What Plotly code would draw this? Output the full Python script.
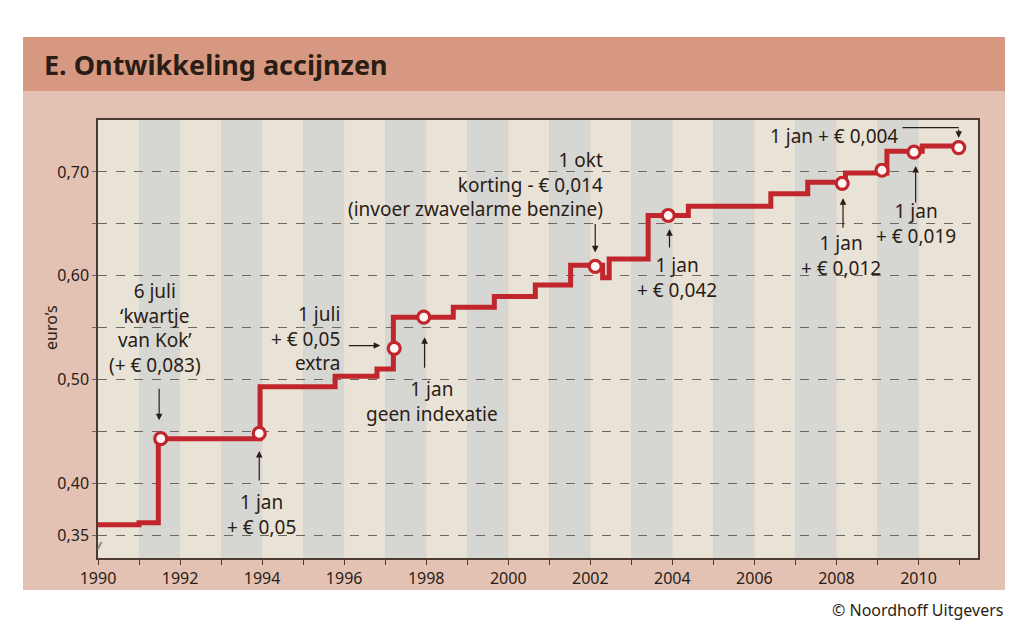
import plotly.graph_objects as go

# ---------------- data ----------------
step_years = [1990.0, 1991.0, 1991.47, 1993.95, 1995.78, 1996.8, 1997.2, 1998.66, 1999.66,
              2000.66, 2001.52, 2002.3, 2002.46, 2003.41, 2004.39, 2006.4, 2007.3,
              2008.22, 2009.23, 2010.09, 2010.98]
step_values = [0.360, 0.362, 0.443, 0.493, 0.503, 0.510, 0.560, 0.5695, 0.580,
               0.591, 0.610, 0.598, 0.616, 0.658, 0.667, 0.679, 0.690,
               0.699, 0.720, 0.725, 0.725]

marker_years = [1991.53, 1993.93, 1997.22, 1997.94, 2002.12, 2003.9, 2008.14, 2009.11, 2009.89, 2010.98]
marker_values = [0.443, 0.448, 0.530, 0.560, 0.609, 0.658, 0.689, 0.7016, 0.719, 0.7234]

x_tick_years = list(range(1990, 2012))
x_tick_labels = [str(y) if y % 2 == 0 else "" for y in x_tick_years]
y_tick_vals = [0.35, 0.40, 0.45, 0.50, 0.55, 0.60, 0.65, 0.70]
y_tick_labels = ["0,35", "0,40", "", "0,50", "", "0,60", "", "0,70"]

# (text, x, y, alignment)
notes = [
    ("6 juli<br>‘kwartje<br>van Kok’<br>(+ € 0,083)", 1991.39, 0.550, "center"),
    ("1 jan<br>+ € 0,05", 1993.98, 0.3695, "center"),
    ("1 juli<br>+ € 0,05<br>extra", 1995.95, 0.5394, "right"),
    ("1 jan<br>geen indexatie", 1998.15, 0.4788, "center"),
    ("1 okt<br>korting - € 0,014<br>(invoer zwavelarme benzine)", 2002.37, 0.6875, "right"),
    ("1 jan<br>+ € 0,042", 2004.12, 0.5986, "center"),
    ("1 jan<br>+ € 0,012", 2008.10, 0.6197, "center"),
    ("1 jan<br>+ € 0,019", 2009.95, 0.6505, "center"),
    ("1 jan + € 0,004", 2007.93, 0.7346, "center"),
]
# (tip x, tip y, ax, ay)
arrows = [
    (1991.49, 0.4606, 0, -33),
    (1993.93, 0.4311, 0, 31),
    (1996.88, 0.5327, -33, 0),
    (1997.96, 0.5407, 0, 32),
    (2002.12, 0.6224, 0, -30),
    (2003.93, 0.6449, 0, 20),
    (2008.16, 0.6747, 0, 31),
    (2009.93, 0.7058, 0, 38),
    (2010.98, 0.7327, 0, -10),
]

# ---------------- styling ----------------
RED = "#C0262C"
DARK = "#2A1D15"
AXIS = "#4A3A30"
FONT = "Noto Sans"
OFF = 8  # default page body margin
W, H = 1016 - OFF, 635 - OFF
L, R, T, B = 98 - OFF, 38, 120 - OFF, 77
PW, PH = W - L - R, H - T - B


def px(xp):
    return (xp - OFF - L) / PW


def py(yp):
    return (H - B - (yp - OFF)) / PH


X_RANGE = [1990, 2011.45]
Y_RANGE = [0.328, 0.75]

fig = go.Figure()

fig.add_trace(go.Scatter(x=step_years, y=step_values, mode="lines",
                         line=dict(color=RED, width=5, shape="hv"),
                         hoverinfo="skip", showlegend=False))
fig.add_trace(go.Scatter(x=marker_years, y=marker_values, mode="markers",
                         marker=dict(size=12, color="#FFF6F4", line=dict(color=RED, width=3.2)),
                         showlegend=False))

shapes = []
shapes.append(dict(type="rect", xref="paper", yref="paper", x0=px(23), x1=px(1005), y0=py(590), y1=py(37),
                   fillcolor="#E3C2B3", line=dict(width=0), layer="below"))
shapes.append(dict(type="rect", xref="paper", yref="paper", x0=px(23), x1=px(1005), y0=py(91), y1=py(37),
                   fillcolor="#D69880", line=dict(width=0), layer="below"))
for y0 in range(1990, 2011):
    col = "#D6D6D3" if y0 % 2 == 1 else "#E9E2D6"
    x1 = X_RANGE[1] if y0 == 2010 else y0 + 1
    shapes.append(dict(type="rect", xref="x", yref="paper", x0=y0, x1=x1, y0=0, y1=1,
                       fillcolor=col, line=dict(width=0), layer="below"))
shapes.append(dict(type="line", xref="x", yref="y", x0=2009.61, x1=2010.98, y0=0.7426, y1=0.7426,
                   line=dict(color=DARK, width=1.2)))

annotations = []
for text, x, y, al in notes:
    annotations.append(dict(x=x, y=y, xref="x", yref="y", text=text, showarrow=False,
                            font=dict(family=FONT, size=19, color=DARK), align=al,
                            xanchor=al, yanchor="middle"))
for x, y, ax, ay in arrows:
    annotations.append(dict(x=x, y=y, xref="x", yref="y", text="", showarrow=True,
                            ax=ax, ay=ay, arrowhead=2, arrowsize=1.1, arrowwidth=1.2,
                            arrowcolor=DARK, standoff=0, startstandoff=0))
annotations.append(dict(x=px(42), y=py(64), xref="paper", yref="paper", text="<b>E. Ontwikkeling accijnzen</b>",
                        showarrow=False, xanchor="left", yanchor="middle",
                        font=dict(family=FONT, size=27, color=DARK)))
annotations.append(dict(x=px(51), y=py(328), xref="paper", yref="paper", text="euro’s", textangle=-90,
                        showarrow=False, xanchor="center", yanchor="middle",
                        font=dict(family=FONT, size=16, color=DARK)))
annotations.append(dict(x=px(1005), y=py(610), xref="paper", yref="paper", text="© Noordhoff Uitgevers",
                        showarrow=False, xanchor="right", yanchor="middle",
                        font=dict(family=FONT, size=16, color=DARK)))
annotations.append(dict(x=px(99), y=py(546), xref="paper", yref="paper", text="⁄⁄",
                        showarrow=False, xanchor="center", yanchor="middle",
                        font=dict(family=FONT, size=10, color="#6A5A50")))

fig.update_layout(
    width=W, height=H,
    margin=dict(l=L, r=R, t=T, b=B, pad=0),
    paper_bgcolor="white",
    plot_bgcolor="rgba(0,0,0,0)",
    shapes=shapes,
    annotations=annotations,
    showlegend=False,
    font=dict(family=FONT, size=16, color=DARK),
    xaxis=dict(range=X_RANGE, tickmode="array", tickvals=x_tick_years, ticktext=x_tick_labels,
               showgrid=False, zeroline=False, showline=True, linecolor=AXIS, linewidth=1.5,
               mirror=True, ticks="outside", ticklen=5, tickwidth=1.2, tickcolor=AXIS,
               tickfont=dict(family=FONT, size=16, color=DARK)),
    yaxis=dict(range=Y_RANGE, tickmode="array", tickvals=y_tick_vals, ticktext=y_tick_labels,
               showgrid=True, gridcolor="#6E6660", gridwidth=1, griddash="dash",
               zeroline=False, showline=True, linecolor=AXIS, linewidth=1.5, mirror=True,
               ticks="outside", ticklen=4, tickwidth=1, tickcolor="#6E6660",
               tickfont=dict(family=FONT, size=16, color=DARK)),
)

fig.write_html("out.html")
